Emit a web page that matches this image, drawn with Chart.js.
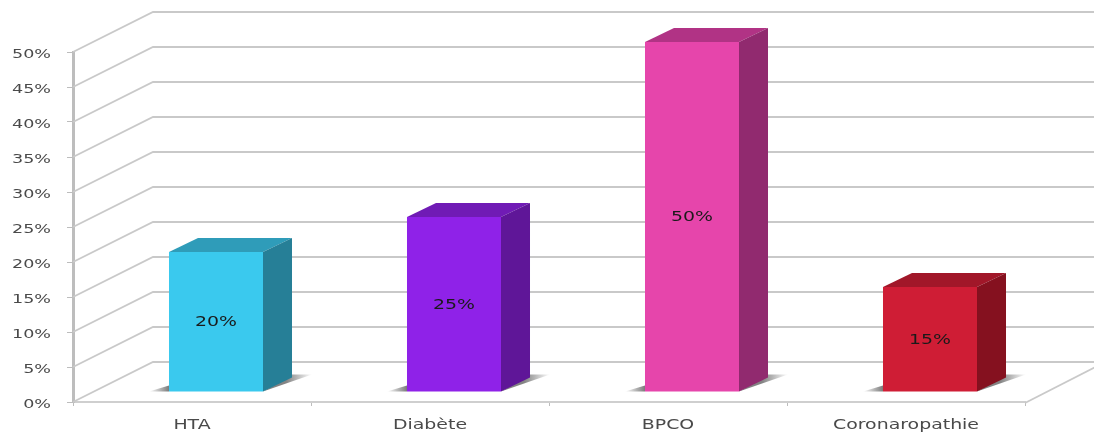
<!DOCTYPE html>
<html>
<head>
<meta charset="utf-8">
<title>Comorbidités</title>
<script src="https://cdn.jsdelivr.net/npm/chart.js@4"></script>
<style>
  html, body { margin: 0; padding: 0; background: #fff; }
  canvas { display: block; }
</style>
</head>
<body>
<canvas id="chart" width="1094" height="433"></canvas>
<script>
const categories = ['HTA', 'Diabète', 'BPCO', 'Coronaropathie'];
const values = [20, 25, 50, 15];
const frontColors = ['#3ac9ee', '#8f22e8', '#e645ab', '#cf1d35'];
const topColors = ['#2f9cb9', '#701bb5', '#b13385', '#a11729'];
const sideColors = ['#267f97', '#5f1698', '#912a6f', '#85111f'];

// wall depth and how far the bars stand in front of it
const WALL = { dx: 80, dy: -40 };
const BAR_SHIFT = { dx: 24, dy: -10 };
const BAR_DEPTH = { dx: 29, dy: -14 };
const LABEL_STRETCH = 1.35;

function fillPoly(ctx, pts, color) {
  ctx.beginPath();
  pts.forEach((p, i) => i ? ctx.lineTo(p[0], p[1]) : ctx.moveTo(p[0], p[1]));
  ctx.closePath();
  ctx.fillStyle = color;
  ctx.fill();
}

// all the text here is set wider than the font's natural width
function wideText(ctx, text, px, py, align, size, color) {
  ctx.save();
  ctx.translate(px, py);
  ctx.scale(LABEL_STRETCH, 1);
  ctx.font = size + 'px "DejaVu Sans"';
  ctx.fillStyle = color;
  ctx.textAlign = align;
  ctx.textBaseline = 'middle';
  ctx.fillText(text, 0, 0);
  ctx.restore();
}

const box3d = {
  id: 'box3d',
  beforeDatasetsDraw(chart) {
    const { ctx, chartArea: area, scales: { x, y } } = chart;
    ctx.save();
    ctx.strokeStyle = '#c9c9c9';
    ctx.lineWidth = 1.8;
    // side wall and back wall lines, with the percent labels
    y.ticks.forEach(t => {
      const py = y.getPixelForValue(t.value);
      ctx.beginPath();
      ctx.moveTo(area.left, py);
      ctx.lineTo(area.left + WALL.dx, py + WALL.dy);
      ctx.lineTo(area.right + WALL.dx, py + WALL.dy);
      ctx.stroke();
      wideText(ctx, t.value + '%', area.left - 22, py + 3, 'right', 13, '#4a4a4a');
    });
    // right edge of the floor
    ctx.beginPath();
    ctx.moveTo(area.right, area.bottom + 1);
    ctx.lineTo(area.right + WALL.dx, area.bottom + WALL.dy);
    ctx.stroke();

    categories.forEach((name, i) => {
      wideText(ctx, name, x.getPixelForTick(i), area.bottom + 23, 'center', 14, '#4a4a4a');
    });

    chart.getDatasetMeta(0).data.forEach((bar, i) => {
      const left = bar.x - bar.width / 2 + BAR_SHIFT.dx;
      const right = bar.x + bar.width / 2 + BAR_SHIFT.dx;
      const top = bar.y + BAR_SHIFT.dy;
      const bottom = bar.base + BAR_SHIFT.dy;
      const d = BAR_DEPTH;

      // soft shadows on the floor
      let g = ctx.createLinearGradient(left - 20, 0, left, 0);
      g.addColorStop(0, 'rgba(100,100,100,0)');
      g.addColorStop(1, 'rgba(100,100,100,0.85)');
      fillPoly(ctx, [[left - 20, bottom], [left, bottom - 6], [left, bottom]], g);
      g = ctx.createLinearGradient(right + d.dx - 6, 0, right + d.dx + 20, 0);
      g.addColorStop(0, 'rgba(100,100,100,0.8)');
      g.addColorStop(1, 'rgba(100,100,100,0)');
      fillPoly(ctx, [[right, bottom], [right + d.dx, bottom + d.dy - 3], [right + d.dx + 20, bottom + d.dy - 3]], g);

      // top and side faces of the box
      fillPoly(ctx, [[left, top], [left + d.dx, top + d.dy], [right + d.dx, top + d.dy], [right, top]], topColors[i]);
      fillPoly(ctx, [[right, top], [right + d.dx, top + d.dy], [right + d.dx, bottom + d.dy], [right, bottom]], sideColors[i]);
    });
    ctx.restore();

    // the front face is the library's own bar, moved off the wall
    ctx.save();
    ctx.translate(BAR_SHIFT.dx, BAR_SHIFT.dy);
  },
  afterDatasetsDraw(chart) {
    const { ctx } = chart;
    chart.getDatasetMeta(0).data.forEach((bar, i) => {
      wideText(ctx, values[i] + '%', bar.x, (bar.y + bar.base) / 2 + 1, 'center', 14, '#1a1a1a');
    });
    ctx.restore();
  }
};

new Chart(document.getElementById('chart'), {
  type: 'bar',
  plugins: [box3d],
  data: {
    labels: categories,
    datasets: [{
      data: values,
      backgroundColor: frontColors,
      barPercentage: 0.395,
      categoryPercentage: 1,
      clip: false
    }]
  },
  options: {
    responsive: false,
    animation: false,
    layout: { padding: { top: 52, right: 69, left: 0, bottom: 0 } },
    plugins: { legend: { display: false }, tooltip: { enabled: false } },
    scales: {
      x: {
        afterFit(scale) { scale.height = 31; },
        grid: { drawOnChartArea: false, color: '#bdbdbd', tickLength: 4 },
        border: { color: '#cfcfcf', width: 2 },
        ticks: { display: false }
      },
      y: {
        min: 0,
        max: 50,
        afterFit(scale) { scale.width = 73; },
        grid: { drawOnChartArea: false, color: '#bdbdbd', tickLength: 6 },
        border: { color: '#bdbdbd', width: 3 },
        ticks: { display: false, stepSize: 5 }
      }
    }
  }
});
</script>
</body>
</html>
